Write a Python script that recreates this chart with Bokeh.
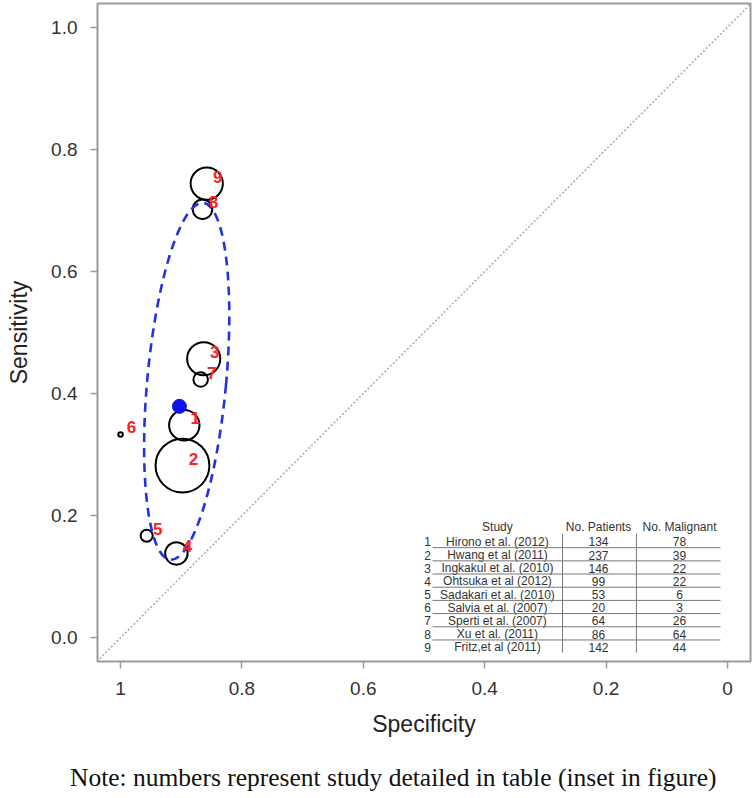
from bokeh.plotting import figure
from bokeh.models import Range1d, FixedTicker, Slope, Div, ColumnDataSource
from bokeh.layouts import column
from bokeh.core.properties import value
from bokeh.embed import file_html
from bokeh.resources import INLINE

# ---------------- data ----------------
study_ids = [1, 2, 3, 4, 5, 6, 7, 8, 9]
study_names = [
    "Hirono et al. (2012)", "Hwang et al (2011)", "Ingkakul et al. (2010)",
    "Ohtsuka et al (2012)", "Sadakari et al. (2010)", "Salvia et al. (2007)",
    "Sperti et al. (2007)", "Xu et al. (2011)", "Fritz,et al (2011)",
]
patients = [134, 237, 146, 99, 53, 20, 64, 86, 142]
malignant = [78, 39, 22, 22, 6, 3, 26, 64, 44]
specificity = [0.895, 0.898, 0.863, 0.908, 0.957, 1.000, 0.868, 0.865, 0.858]
sensitivity = [0.348, 0.282, 0.457, 0.138, 0.167, 0.333, 0.423, 0.702, 0.744]
summary_spec = [0.903]
summary_sens = [0.379]
# confidence region (centre, full widths, tilt)
ellipse_spec = [0.891]
ellipse_sens = [0.420]
ellipse_w = 0.130
ellipse_h = 0.587
ellipse_angle = -0.092

x_ticks = [1.0, 0.8, 0.6, 0.4, 0.2, 0.0]
x_tick_labels = ["1", "0.8", "0.6", "0.4", "0.2", "0"]
y_ticks = [0.0, 0.2, 0.4, 0.6, 0.8, 1.0]
y_tick_labels = ["0.0", "0.2", "0.4", "0.6", "0.8", "1.0"]
table_headers = ["Study", "No. Patients", "No. Malignant"]
note_text = "Note: numbers represent study detailed in table (inset in figure)"

# ---------------- layout constants (table inset, data units) ----------------
ROW1_Y = 0.157
ROW_STEP = 0.0216
HEADER_Y = 0.182
COL_NUM_X = 0.494
COL_NAME_X = 0.379
COL_PAT_X = 0.2125
COL_MAL_X = 0.079
HLINE_X0, HLINE_X1, HLINE_DY = 0.486, 0.0115, -0.0095
VLINE_X = [0.2718, 0.150]
VLINE_Y0, VLINE_Y1 = 0.1705, -0.0246

SANS = "Liberation Sans"

p = figure(width=752, height=763,
           x_range=Range1d(1.038, -0.038), y_range=Range1d(-0.039, 1.039),
           output_backend="svg", toolbar_location=None,
           min_border_left=97, min_border_right=2, min_border_top=3,
           min_border_bottom=102)
p.xgrid.visible = False
p.ygrid.visible = False
p.outline_line_color = "#9a9a9a"
p.outline_line_width = 2
p.outline_line_alpha = 1.0

p.xaxis.ticker = FixedTicker(ticks=x_ticks)
p.yaxis.ticker = FixedTicker(ticks=y_ticks)
p.xaxis.major_label_overrides = dict(zip(x_ticks, x_tick_labels))
p.yaxis.major_label_overrides = dict(zip(y_ticks, y_tick_labels))
p.xaxis.axis_label = "Specificity"
p.yaxis.axis_label = "Sensitivity"
for ax in (p.xaxis, p.yaxis):
    ax.axis_line_color = None
    ax.major_tick_line_color = "#9a9a9a"
    ax.major_tick_line_width = 1.5
    ax.major_tick_out = 7
    ax.major_tick_in = 0
    ax.minor_tick_line_color = None
    ax.major_label_text_font = SANS
    ax.major_label_text_font_size = "19px"
    ax.major_label_text_color = "#333333"
    ax.axis_label_text_font = SANS
    ax.axis_label_text_font_size = "23px"
    ax.axis_label_text_font_style = "normal"
    ax.axis_label_text_color = "#222222"
p.xaxis.major_label_standoff = 13
p.xaxis.axis_label_standoff = 13
p.yaxis.major_label_standoff = 13
p.yaxis.major_label_orientation = "horizontal"
p.yaxis.axis_label_standoff = 16

# chance diagonal
p.add_layout(Slope(gradient=-1, y_intercept=1, line_color="#a8a8a8",
                   line_width=1.5, line_dash="2 2"))

# study circles
src = ColumnDataSource(dict(x=specificity, y=sensitivity,
                            size=[n * 0.227 for n in patients],
                            lab=[str(i) for i in study_ids]))
p.scatter("x", "y", size="size", source=src, marker="circle",
          fill_color=None, line_color="black", line_width=2.0)

# confidence ellipse
p.ellipse(x=ellipse_spec, y=ellipse_sens, width=ellipse_w, height=ellipse_h,
          angle=ellipse_angle, fill_color=None, line_color="#2233dd",
          line_width=2.6, line_dash="9 6")

# summary point
p.scatter(summary_spec, summary_sens, size=14, marker="circle",
          fill_color="#1010ee", line_color="#1010ee")

# study numbers
p.text("x", "y", text="lab", source=src, text_color="#ff2020",
       text_font=value(SANS), text_font_size="17px", text_font_style="bold",
       text_align="center", text_baseline="middle", x_offset=11, y_offset=-7)

# ---------------- table inset ----------------
rows_y = [ROW1_Y - i * ROW_STEP for i in range(len(study_ids))]
tfont = dict(text_font=value(SANS), text_font_size="12px", text_color="#333333",
             text_baseline="middle")
p.text(x=[COL_NUM_X] * len(study_ids), y=rows_y, text=[str(i) for i in study_ids],
       text_align="center", **tfont)
p.text(x=[COL_NAME_X] * len(study_ids), y=rows_y, text=study_names,
       text_align="center", **tfont)
p.text(x=[COL_PAT_X] * len(study_ids), y=rows_y, text=[str(v) for v in patients],
       text_align="center", **tfont)
p.text(x=[COL_MAL_X] * len(study_ids), y=rows_y, text=[str(v) for v in malignant],
       text_align="center", **tfont)
p.text(x=[COL_NAME_X, COL_PAT_X, COL_MAL_X], y=[HEADER_Y] * 3, text=table_headers,
       text_align="center", **tfont)
hl_y = [y + HLINE_DY for y in rows_y[:-1]]
p.segment(x0=[HLINE_X0] * len(hl_y), y0=hl_y, x1=[HLINE_X1] * len(hl_y), y1=hl_y,
          line_color="#777777", line_width=1)
p.segment(x0=VLINE_X, y0=[VLINE_Y0] * 2, x1=VLINE_X, y1=[VLINE_Y1] * 2,
          line_color="#777777", line_width=1)

# footnote below the plot
note = Div(text=note_text, width=752, height=33, margin=(0, 0, 0, 0),
           styles={"font-family": "'Liberation Serif', serif",
                   "font-size": "25.5px", "color": "#111111",
                   "padding-left": "70px", "line-height": "1.15",
                   "white-space": "nowrap"})

layout = column(p, note, spacing=0)
open("out.html", "w").write(file_html(layout, INLINE))
